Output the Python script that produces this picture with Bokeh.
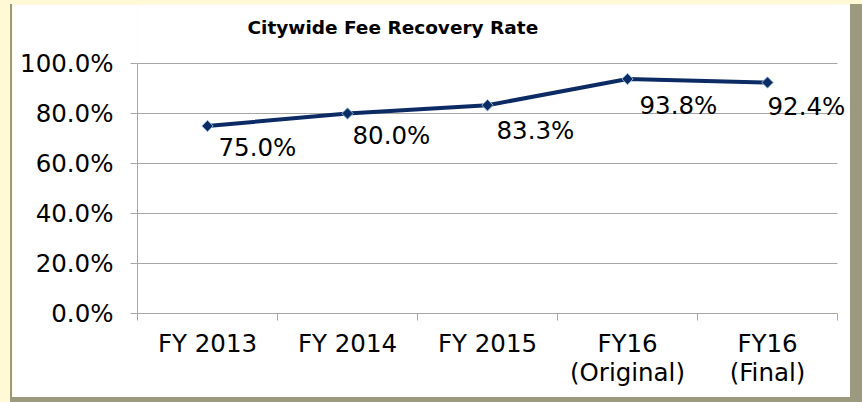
import math
from bokeh.plotting import figure
from bokeh.layouts import column
from bokeh.models import (FixedTicker, NumeralTickFormatter, Range1d, LabelSet, Label,
                          BoxAnnotation, ColumnDataSource)
from bokeh.embed import file_html
from bokeh.resources import INLINE
from bokeh.core.properties import value

# ---- data ----
categories = ["FY 2013", "FY 2014", "FY 2015", "FY16\n(Original)", "FY16\n(Final)"]
rates = [0.750, 0.800, 0.833, 0.938, 0.924]
rate_labels = ["75.0%", "80.0%", "83.3%", "93.8%", "92.4%"]
y_ticks = [0.0, 0.2, 0.4, 0.6, 0.8, 1.0]
chart_title = "Citywide Fee Recovery Rate"

# ---- style ----
label_dx = [11, 5, 9, 12, 0]
label_dy = [-21, -22, -25, -26, -24]
FONT = "DejaVu Sans"
FS = "24.5px"
NAVY = "#0C2B64"
GRID = "#A6A6A6"
YELLOW = "#FFF9D6"
OLIVE = "#9C9A7E"

W, H = 838, 393            # white chart panel
LEFT, BOTTOM = 125, 84     # space for the axes
CAT_PX, VAL_PX = 140, 250  # pixels per category / per 100 %
n = len(categories)
xs = [i + 0.5 for i in range(n)]

# the frame reaches the top and right edge of the panel so that the title and the
# last value label can be drawn inside it; axes/grid are bounded to the real data area
x_end = (W - LEFT) / CAT_PX
y_end = (H - BOTTOM) / VAL_PX

p = figure(width=W, height=H, output_backend="svg", toolbar_location=None,
           x_range=Range1d(0, x_end), y_range=Range1d(0, y_end),
           min_border_left=LEFT, min_border_right=0, min_border_top=0, min_border_bottom=BOTTOM)
p.border_fill_color = "white"
p.background_fill_color = "white"
p.outline_line_color = None
p.styles = {"box-shadow": f"12px 0 0 0 {OLIVE}, 0 5px 0 0 {OLIVE}, 12px 5px 0 0 {OLIVE}, "
                          f"-2px 0 0 0 {OLIVE}, -2px 5px 0 0 {OLIVE}"}

# grid
p.xgrid.visible = False
p.ygrid.ticker = FixedTicker(ticks=y_ticks)
p.ygrid.grid_line_color = GRID
p.ygrid.grid_line_width = 1
# hide grid lines to the right of the last category
p.add_layout(BoxAnnotation(left=n, fill_color="white", fill_alpha=1, line_color=None,
                           level="underlay"))

# y axis
p.yaxis.bounds = (0, 1)
p.yaxis.ticker = FixedTicker(ticks=y_ticks)
p.yaxis.formatter = NumeralTickFormatter(format="0.0%")
p.yaxis.axis_line_color = GRID
p.yaxis.major_tick_line_color = GRID
p.yaxis.major_tick_out = 7
p.yaxis.major_tick_in = 0
p.yaxis.minor_tick_line_color = None
p.yaxis.major_label_standoff = 17
p.yaxis.major_label_text_font = FONT
p.yaxis.major_label_text_font_size = FS
p.yaxis.major_label_text_color = "black"

# x axis
p.xaxis.bounds = (0, n)
p.xaxis.ticker = FixedTicker(ticks=xs, minor_ticks=list(range(n + 1)))
p.xaxis.major_label_overrides = {x: c for x, c in zip(xs, categories)}
p.xaxis.axis_line_color = GRID
p.xaxis.major_tick_line_color = None
p.xaxis.major_tick_out = 0
p.xaxis.major_tick_in = 0
p.xaxis.minor_tick_line_color = GRID
p.xaxis.minor_tick_out = 7
p.xaxis.minor_tick_in = 0
p.xaxis.major_label_standoff = 8
p.xaxis.major_label_text_font = FONT
p.xaxis.major_label_text_font_size = FS
p.xaxis.major_label_text_color = "black"
p.xaxis.major_label_text_line_height = 1.0

src = ColumnDataSource(dict(x=xs, y=rates, lab=rate_labels, dx=label_dx, dy=label_dy))
p.line("x", "y", source=src, line_color=NAVY, line_width=4)
p.scatter("x", "y", source=src, marker="square", angle=math.pi / 4, size=8,
          fill_color=NAVY, line_color="#8DB8DC", line_width=1)
labels = LabelSet(x="x", y="y", text="lab", source=src, x_offset="dx", y_offset="dy",
                  text_font=value(FONT), text_font_size=value(FS), text_color="black",
                  text_align="left", text_baseline="middle")
p.add_layout(labels)

# title (inside the extended frame, above the 100 % line)
p.add_layout(Label(x=110 / CAT_PX, y=1, y_offset=36, text=chart_title,
                   text_font=FONT, text_font_size="18.5px", text_font_style="bold",
                   text_color="black", text_align="left", text_baseline="alphabetic"))

root = column(p, styles={"background-color": YELLOW, "padding": "4px 12px 5px 12px"})

open("out.html", "w").write(file_html(root, INLINE))
